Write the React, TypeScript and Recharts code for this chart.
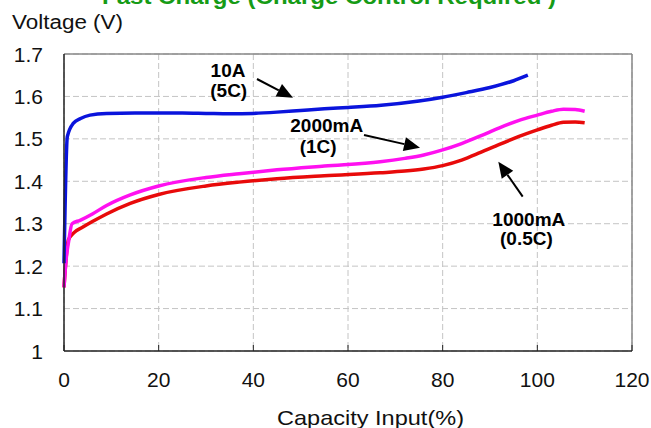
import React from 'react';
import { LineChart, Line, XAxis, YAxis, CartesianGrid, ReferenceLine, ReferenceDot } from 'recharts';

const xTicks = [0, 20, 40, 60, 80, 100, 120];
const yTicks = [1, 1.1, 1.2, 1.3, 1.4, 1.5, 1.6, 1.7];

const blueX = [0, 0.7, 2, 3.5, 5.5, 9, 15, 20, 25, 30, 35, 40, 45, 50, 55, 60, 67, 75, 80, 85, 90, 95, 98];
const blueV = [1.207, 1.505, 1.537, 1.548, 1.556, 1.56, 1.561, 1.561, 1.561, 1.56, 1.559, 1.56, 1.563, 1.567, 1.571, 1.574, 1.579, 1.589, 1.598, 1.609, 1.621, 1.637, 1.65];

const magentaX = [0, 0.4, 1.0, 1.7, 3.4, 6, 9, 14, 20, 30, 37, 45, 55, 66.8, 72, 76, 80, 84, 88, 92, 96, 100, 103, 105.5, 108, 110];
const magentaV = [1.15, 1.21, 1.26, 1.3, 1.308, 1.323, 1.343, 1.368, 1.389, 1.409, 1.418, 1.427, 1.436, 1.446, 1.454, 1.462, 1.474, 1.489, 1.507, 1.526, 1.543, 1.556, 1.565, 1.57, 1.569, 1.565];

const redX = [0, 0.9, 2, 4, 6, 9, 14, 20, 30, 37, 45, 55, 66.8, 72, 76, 80, 84, 88, 92, 96, 100, 103, 105.5, 108, 110];
const redV = [1.15, 1.261, 1.278, 1.292, 1.305, 1.323, 1.348, 1.369, 1.389, 1.398, 1.406, 1.413, 1.42, 1.424, 1.429, 1.437, 1.45, 1.468, 1.487, 1.505, 1.521, 1.532, 1.539, 1.54, 1.538];

const annotationTexts = ['10A', '(5C)', '2000mA', '(1C)', '1000mA', '(0.5C)'];
const annotationX = [34.65, 34.8, 55.5, 53.7, 98.2, 97.7];
const annotationY = [1.6465, 1.5994, 1.5169, 1.4667, 1.2946, 1.2498];

const arrowFrom = [
  { x: 40.77, y: 1.6411 },
  { x: 63.38, y: 1.5091 },
  { x: 96.91, y: 1.3637 },
];
const arrowTo = [
  { x: 48.38, y: 1.597 },
  { x: 75.21, y: 1.4792 },
  { x: 91.76, y: 1.4462 },
];

const build = (xs: number[], vs: number[]) => xs.map((x, i) => ({ x, v: vs[i] }));
const blueData = build(blueX, blueV);
const magentaData = build(magentaX, magentaV);
const redData = build(redX, redV);

const FONT = '"Liberation Sans", Arial, sans-serif';

const XTick = (props: any) => {
  const { x, y, payload } = props;
  return (
    <g>
      <line x1={x} y1={y} x2={x} y2={y - 6} stroke="#222" strokeWidth={1} />
      <text x={x} y={y + 36} textAnchor="middle" fontSize={21} fill="#111" fontFamily={FONT}>
        {payload.value}
      </text>
    </g>
  );
};

const YTick = (props: any) => {
  const { x, y, payload } = props;
  return (
    <text x={x - 21} y={y + 7.5} textAnchor="end" fontSize={21} fill="#111" fontFamily={FONT}>
      {payload.value}
    </text>
  );
};

const Arrow = (p: any) => {
  const { x1, y1, x2, y2 } = p;
  const dx = x2 - x1;
  const dy = y2 - y1;
  const L = Math.hypot(dx, dy) || 1;
  const ux = dx / L;
  const uy = dy / L;
  const hl = 16;
  const hw = 7;
  const bx = x2 - ux * hl;
  const by = y2 - uy * hl;
  const px = -uy;
  const py = ux;
  return (
    <g>
      <line x1={x1} y1={y1} x2={bx} y2={by} stroke="#000" strokeWidth={2} />
      <polygon points={`${x2},${y2} ${bx + px * hw},${by + py * hw} ${bx - px * hw},${by - py * hw}`} fill="#000" />
    </g>
  );
};

const makeLabel = (text: string) => (p: any) => (
  <text x={p.cx} y={p.cy} textAnchor="middle" fontSize={19} fontWeight="bold" fill="#000" fontFamily={FONT}>
    {text}
  </text>
);

export default function App() {
  return (
    <div style={{ position: 'absolute', left: 0, top: 0, width: 651, height: 428, background: '#fff' }}>
      <LineChart width={651} height={428} margin={{ top: 54, right: 19, bottom: 0, left: 0 }}>
        <CartesianGrid stroke="#c4c4c4" strokeDasharray="6 3" />
        <XAxis
          type="number"
          dataKey="x"
          domain={[0, 120]}
          ticks={xTicks}
          height={77}
          tickSize={0}
          tickMargin={0}
          tickLine={false}
          axisLine={{ stroke: '#222', strokeWidth: 1.5 }}
          tick={<XTick />}
          interval={0}
        />
        <YAxis
          type="number"
          domain={[1, 1.7]}
          ticks={yTicks}
          width={64}
          tickSize={0}
          tickMargin={0}
          tickLine={false}
          axisLine={{ stroke: '#222', strokeWidth: 1.5 }}
          tick={<YTick />}
          interval={0}
        />
        <ReferenceLine y={1.7} stroke="#888" strokeWidth={1.5} />
        <ReferenceLine x={120} stroke="#888" strokeWidth={1.5} />
        <Line data={redData} dataKey="v" type="monotone" stroke="#e80a0a" strokeWidth={3.5} dot={false} isAnimationActive={false} />
        <Line data={magentaData} dataKey="v" type="monotone" stroke="#ff10f0" strokeWidth={3.5} dot={false} isAnimationActive={false} />
        <Line data={blueData} dataKey="v" type="monotone" stroke="#0a14dc" strokeWidth={3.5} dot={false} isAnimationActive={false} />
        {arrowFrom.map((a, i) => (
          <ReferenceLine key={'a' + i} segment={[a, arrowTo[i]]} shape={Arrow} stroke="#000" />
        ))}
        {annotationTexts.map((t, i) => (
          <ReferenceDot key={'t' + i} x={annotationX[i]} y={annotationY[i]} r={1} shape={makeLabel(t)} />
        ))}
      </LineChart>
      <svg width={651} height={428} style={{ position: 'absolute', left: 0, top: 0, pointerEvents: 'none' }}>
        <text x={329} y={4} textAnchor="middle" fontSize={22} fontWeight="bold" fill="#169b16" fontFamily={FONT} textLength={454} lengthAdjust="spacingAndGlyphs">
          Fast Charge (Charge Control Required )
        </text>
        <text x={12} y={29} fontSize={20} fill="#111" fontFamily={FONT} textLength={111} lengthAdjust="spacingAndGlyphs">
          Voltage (V)
        </text>
        <text x={277} y={425} fontSize={21} fill="#111" fontFamily={FONT} textLength={187} lengthAdjust="spacingAndGlyphs">
          Capacity Input(%)
        </text>
      </svg>
    </div>
  );
}
